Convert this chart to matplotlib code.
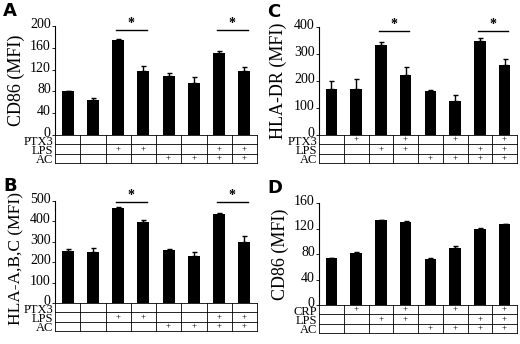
import matplotlib.pyplot as plt
from matplotlib.transforms import ScaledTranslation

plt.rcParams['font.family'] = 'Liberation Serif'

# panel values (mean, upper error)
a_vals = [80, 65, 174, 118, 108, 96, 151, 118]
a_err = [1.5, 3, 2, 9, 6, 10, 4, 7]
b_vals = [255, 250, 465, 395, 260, 230, 435, 300]
b_err = [10, 20, 8, 12, 5, 18, 8, 28]
c_vals = [170, 172, 335, 222, 163, 125, 350, 260]
c_err = [30, 35, 10, 30, 3, 25, 10, 22]
d_vals = [73, 82, 133, 130, 72, 90, 120, 127]
d_err = [1, 1.5, 1, 2, 2, 2, 1.5, 0.5]

# treatment rows for the table under each panel ('+' marks)
row_empty = [0, 0, 0, 0, 0, 0, 0, 0]
row_alt = [0, 1, 0, 1, 0, 1, 0, 1]
row_lps = [0, 0, 1, 1, 0, 0, 1, 1]
row_ac = [0, 0, 0, 0, 1, 1, 1, 1]

panels = [
    # letter, values, errors, ylabel, ymax, tick step, row names, rows, sig y, rect
    ('A', a_vals, a_err, 'CD86 (MFI)', 200, 40, ['PTX3', 'LPS', 'AC'],
     [row_empty, row_lps, row_ac], 193, [55, 26, 202, 109]),
    ('C', c_vals, c_err, 'HLA-DR (MFI)', 400, 100, ['PTX3', 'LPS', 'AC'],
     [row_alt, row_lps, row_ac], 385, [319, 27, 198, 108]),
    ('B', b_vals, b_err, 'HLA-A,B,C (MFI)', 500, 100, ['PTX3', 'LPS', 'AC'],
     [row_empty, row_lps, row_ac], 497, [55, 201, 202, 102]),
    ('D', d_vals, d_err, 'CD86 (MFI)', 160, 40, ['CRP', 'LPS', 'AC'],
     [row_alt, row_lps, row_ac], None, [319, 203, 198, 102]),
]
sig_pairs = [(2, 3), (6, 7)]

W, H = 520, 344
fig = plt.figure(figsize=(5.2, 3.44), dpi=100)
x = list(range(8))
lift = ScaledTranslation(0, 3 / 100, fig.dpi_scale_trans)

for letter, vals, errs, ylab, ymax, step, names, rows, sig_y, rect in panels:
    left, top, width, height = rect
    ax = fig.add_axes([left / W, 1 - (top + height) / H, width / W, height / H])
    ax.bar(x, vals, width=0.47, color='black')
    ax.errorbar(x, vals, yerr=[[0] * 8, errs], fmt='none', ecolor='black',
                elinewidth=1, capsize=1.8, capthick=1)
    ax.set_xlim(-0.5, 7.5)
    ax.set_ylim(0, ymax)
    ax.set_yticks(range(0, ymax + 1, step))
    ax.tick_params(axis='y', labelsize=10, length=2, width=0.6, pad=1)
    for lab in ax.get_yticklabels():
        lab.set_transform(lab.get_transform() + lift)
    ax.set_xticks([])
    for s in ['top', 'right', 'bottom']:
        ax.spines[s].set_visible(False)
    ax.spines['left'].set_linewidth(0.8)
    if letter == 'B':
        ax.set_ylabel(ylab, fontsize=12.5, labelpad=2)
        ax.yaxis.set_label_coords(-0.15, 0.44)
    else:
        ax.set_ylabel(ylab, fontsize=13, labelpad=2)
        ax.yaxis.set_label_coords(-0.16 if ymax >= 400 else -0.15, 0.5)
    fig.text((left - 52) / W, 1 - (top - 6) / H, letter, fontsize=13,
             fontweight='bold', family='DejaVu Sans', va='bottom')

    if sig_y is not None:
        for i, j in sig_pairs:
            ax.plot([i - 0.08, j + 0.15], [sig_y, sig_y], color='black',
                    lw=1, clip_on=False)
            ax.text((i + j) / 2 + 0.02, sig_y, '*', ha='center', va='bottom',
                    fontsize=10, fontweight='bold', clip_on=False)

    # treatment table
    rh = 9.3
    tab = fig.add_axes([left / W, 1 - (top + height + 3 * rh) / H,
                        width / W, 3 * rh / H])
    tab.set_xlim(-0.5, 7.5)
    tab.set_ylim(0, 3)
    tab.axis('off')
    for yy in range(4):
        tab.plot([-0.5, 7.5], [yy, yy], color='black', lw=0.6, clip_on=False)
    for xx in range(9):
        tab.plot([xx - 0.5, xx - 0.5], [0, 3], color='black', lw=0.6,
                 clip_on=False)
    for r, (name, marks) in enumerate(zip(names, rows)):
        yc = 2.5 - r
        tab.text(-0.57, yc - 0.22, name, ha='right', va='center', fontsize=9)
        for k, m in enumerate(marks):
            if m:
                tab.text(k, yc, '+', ha='center', va='center', fontsize=6.5)

fig.savefig('out.png', dpi=100)
